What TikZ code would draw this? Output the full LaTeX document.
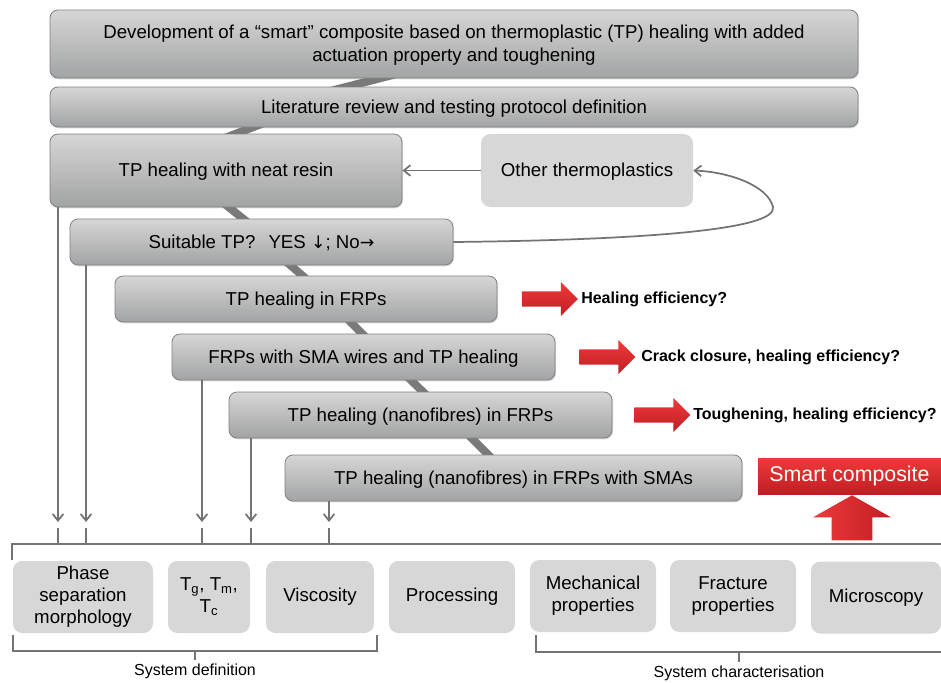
\documentclass[tikz,border=0pt]{standalone}
\usepackage{fontspec}
\setmainfont{Liberation Sans}
\newfontfamily\arrowfont{DejaVu Sans}
\usetikzlibrary{arrows.meta,shapes.arrows,shadows,backgrounds,calc}

\definecolor{boxtop}{HTML}{D6D6D6}
\definecolor{boxbot}{HTML}{A2A3A4}
\definecolor{boxline}{HTML}{808080}
\definecolor{lightbox}{HTML}{D7D7D7}
\definecolor{linegray}{HTML}{737373}
\definecolor{barcol}{HTML}{7A7A7A}
\definecolor{redtop}{HTML}{EE3A3A}
\definecolor{redbot}{HTML}{C01E24}

\tikzset{
  stepbox/.style={draw=boxline, line width=0.6pt, rounded corners=6pt,
    top color=boxtop, bottom color=boxbot,
    drop shadow={shadow xshift=0.8pt, shadow yshift=-1pt, opacity=0.3},
    inner sep=0pt, text depth=1pt, align=center, font=\fontsize{14}{17}\selectfont},
  testbox/.style={fill=lightbox, rounded corners=7pt, inner sep=0pt,
    minimum height=54pt, align=center, font=\fontsize{14}{16.5}\selectfont},
  redarrow/.style={single arrow, top color=redtop, bottom color=redbot,
    inner xsep=0pt, inner ysep=5.6pt, minimum height=42pt,
    single arrow head extend=7pt},
  question/.style={anchor=west, inner sep=0pt,
    font=\bfseries\fontsize{12}{14}\selectfont},
  flow/.style={draw=linegray, line width=1.3pt,
    -{Straight Barb[length=5pt,width=8pt]}},
  stepbar/.style={draw=barcol, line width=6pt},
  bracketline/.style={draw=linegray, line width=1pt},
}

\begin{document}
\begin{tikzpicture}[x=0.75pt,y=0.75pt]
  \useasboundingbox (0,0) rectangle (941,-682);

  % main steps
  \node[stepbox, minimum width=606pt, minimum height=51pt] (top) at (454,-44)
    {Development of a “smart” composite based on thermoplastic (TP) healing with added\\actuation property and toughening};
  \node[stepbox, minimum width=606pt, minimum height=30pt] (lit) at (454,-107)
    {Literature review and testing protocol definition};
  \node[stepbox, minimum width=264pt, minimum height=54.75pt] (neat) at (226,-170.5)
    {TP healing with neat resin};
  \node[fill=lightbox, rounded corners=7pt, minimum width=159pt, minimum height=54.75pt,
    text depth=1pt, font=\fontsize{14}{17}\selectfont] (other) at (587,-170.5) {Other thermoplastics};
  \node[stepbox, minimum width=287.25pt, minimum height=34.5pt] (suit) at (261.5,-242)
    {Suitable TP?\hspace{0.7em}YES {\arrowfont\fontsize{13}{17}\selectfont↓}; No{\arrowfont\fontsize{13}{17}\selectfont→}};
  \node[stepbox, minimum width=286.5pt, minimum height=34.5pt] (frp) at (306,-299)
    {TP healing in FRPs};
  \node[stepbox, minimum width=287.25pt, minimum height=34.5pt] (sma) at (363.5,-357)
    {FRPs with SMA wires and TP healing};
  \node[stepbox, minimum width=287.25pt, minimum height=34.5pt] (nano) at (420.5,-415)
    {TP healing (nanofibres) in FRPs};
  \node[stepbox, minimum width=342.75pt, minimum height=34.5pt] (nanosma) at (513.5,-478)
    {TP healing (nanofibres) in FRPs with SMAs};
  \node[top color=redtop, bottom color=redbot, text=white, minimum width=137.25pt,
    minimum height=27pt, inner sep=0pt, font=\fontsize{16}{18}\selectfont,
    drop shadow={shadow xshift=0.8pt, shadow yshift=-1pt, opacity=0.3}] (smart) at (849.5,-476)
    {Smart composite};

  % questions
  \node[redarrow] (q1arrow) at (546,-299) {};
  \node[question] (q1) at (581,-299) {Healing efficiency?};
  \node[redarrow] (q2arrow) at (603.5,-357) {};
  \node[question] (q2) at (641,-357) {Crack closure, healing efficiency?};
  \node[redarrow] (q3arrow) at (658.5,-415) {};
  \node[question] (q3) at (693,-415) {Toughening, healing efficiency?};
  \node[redarrow, rotate=90, left color=redtop, right color=redbot, inner ysep=15pt,
    minimum height=33.75pt, single arrow head extend=14.25pt,
    single arrow tip angle=121] (up) at (852,-523.5) {};

  % tests
  \node[testbox, minimum width=105pt] (phase) at (83,-597) {Phase\\separation\\morphology};
  \node[testbox, minimum width=61.5pt] (temp) at (209,-597)
    {T\textsubscript{g}, T\textsubscript{m},\\T\textsubscript{c}};
  \node[testbox, minimum width=81pt] (visc) at (320,-597) {Viscosity};
  \node[testbox, minimum width=94.5pt] (proc) at (452,-597) {Processing};
  \node[testbox, minimum width=94.5pt] (mech) at (593,-596) {Mechanical\\properties};
  \node[testbox, minimum width=94.5pt] (frac) at (733,-596) {Fracture\\properties};
  \node[testbox, minimum width=97.5pt] (micro) at (876,-597.5) {Microscopy};

  % spine behind the steps
  \begin{scope}[on background layer]
    \draw[stepbar] ($(top.south)+(-59,4)$) -- ($(lit.north)+(-126,-5)$);
    \draw[stepbar] ($(lit.south)+(-188.5,5)$) -- ($(neat.north)+(-5.5,-6)$);
    \draw[stepbar] ($(neat.south)+(-2,4)$) -- ($(suit.north)+(-13.5,-4)$);
    \draw[stepbar] ($(suit.south)+(24.5,4)$) -- ($(frp.north)+(1,-4)$);
    \draw[stepbar] ($(frp.south)+(41,4)$) -- ($(sma.north)+(2.5,-4)$);
    \draw[stepbar] ($(sma.south)+(43.5,4)$) -- ($(nano.north)+(7.5,-5)$);
    \draw[stepbar] ($(nano.south)+(46.5,5)$) -- ($(nanosma.north)+(-21.5,-4)$);
  \end{scope}

  % loop back
  \coordinate (loop) at (773,-207);
  \draw[flow] (other.west) -- (neat.east);
  \draw[flow] (suit.east) .. controls (640,-240) and (778,-230) .. (loop)
    .. controls (768,-186) and (730,-172) .. (other.east);

  % arrows down to the tests
  \draw[bracketline] (12,-560) -- (12,-544) -- (941,-544);
  \foreach \src/\x [count=\i] in {neat/58, suit/86, sma/202, nano/251, nanosma/329} {
    \coordinate (drop\i) at (\x,-522);
    \draw[flow] (\src.south -| drop\i) -- (drop\i);
    \draw[bracketline] ($(drop\i)+(0,-6)$) -- ($(drop\i)+(0,-22)$);
  }

  % groups
  \draw[bracketline] (13,-635) -- (13,-651) -- (377,-651) -- (377,-635);
  \draw[bracketline] (195,-651) -- (195,-660);
  \node[font=\fontsize{12}{14}\selectfont] (sysdef) at (195,-671) {System definition};
  \draw[bracketline] (536,-635) -- (536,-652) -- (941,-652);
  \draw[bracketline] (739,-652) -- (739,-662);
  \node[font=\fontsize{12}{14}\selectfont] (syschar) at (739,-673) {System characterisation};
\end{tikzpicture}
\end{document}
